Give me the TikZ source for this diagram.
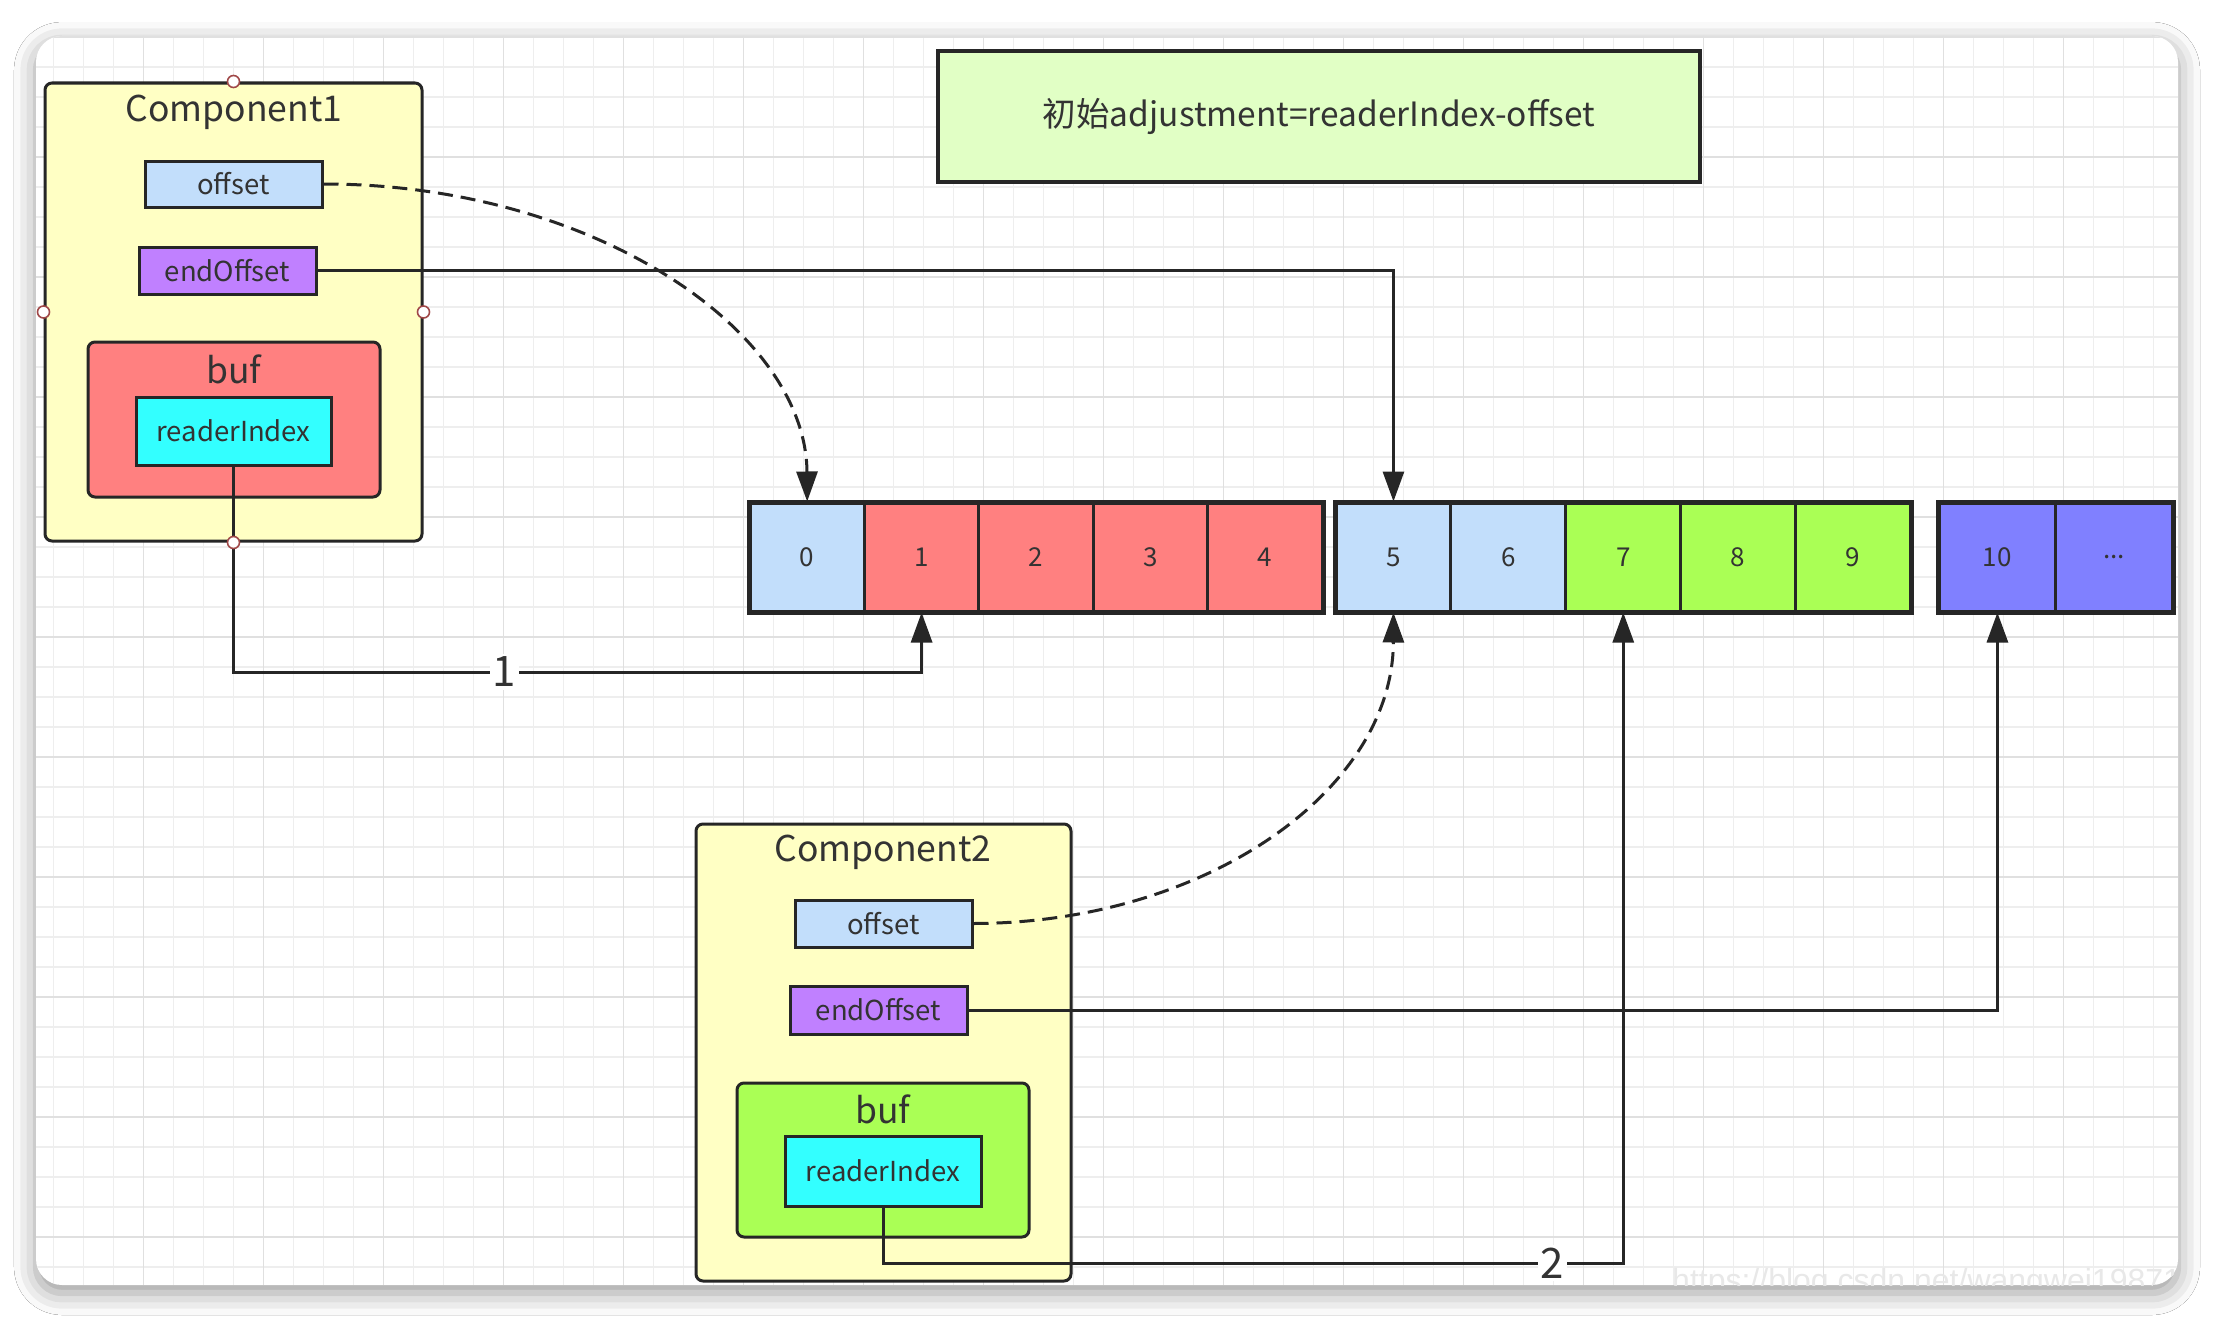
\documentclass[tikz,border=0pt]{standalone}
\usepackage{fontspec}
\setmainfont{Noto Sans CJK SC}
\newfontfamily\wmfont{Liberation Sans}
\usetikzlibrary{arrows.meta,shadows.blur}
\definecolor{txt}{HTML}{333333}
\definecolor{ink}{HTML}{262626}
\definecolor{compc}{HTML}{FFFFC4}
\definecolor{bluec}{HTML}{C2DEFB}
\definecolor{purpc}{HTML}{C080FF}
\definecolor{redc}{HTML}{FF8080}
\definecolor{cyanc}{HTML}{33FFFF}
\definecolor{greenc}{HTML}{AAFF55}
\definecolor{violc}{HTML}{8080FF}
\definecolor{notec}{HTML}{E1FFC5}
\definecolor{gridminor}{HTML}{EEEEEE}
\definecolor{gridmajor}{HTML}{E0E0E0}
\definecolor{handlec}{HTML}{A04848}
\tikzset{
  compbox/.style={draw=ink, line width=3pt, fill=compc, rounded corners=7pt, inner sep=0pt},
  bufbox/.style={draw=ink, line width=3pt, rounded corners=7pt, inner sep=0pt},
  field/.style={draw=ink, line width=3pt, inner sep=0pt, text=txt, font=\fontsize{27.5}{32}\selectfont},
  ttl/.style={text=txt, inner sep=0pt, font=\fontsize{35.5}{40}\selectfont},
  cell/.style={draw=ink, line width=3pt, inner sep=0pt, minimum height=108pt, text=txt, font=\fontsize{26}{30}\selectfont},
  grp/.style={draw=ink, line width=4pt},
  conn/.style={draw=ink, line width=3pt},
  tip/.style={-{Triangle[length=30pt,width=21pt]}},
  dashy/.style={dash pattern=on 15pt off 8pt},
  lbl/.style={fill=white, inner sep=3pt, text=txt, font=\fontsize{42}{44}\selectfont},
  handle/.style={circle, draw=handlec, fill=white, line width=1.6pt, minimum size=12pt, inner sep=0pt},
  note/.style={draw=ink, line width=3.5pt, fill=notec, inner sep=0pt, text=txt, font=\fontsize{33.5}{38}\selectfont},
}
\begin{document}
\begin{tikzpicture}[x=1pt,y=-1pt]
\useasboundingbox (0,0) rectangle (2214,1322);
\fill[white] (0,0) rectangle (2214,1322);
% card with shadow
\path[fill=white, rounded corners=26pt, blur shadow={shadow xshift=0pt, shadow yshift=-8pt, shadow blur radius=22pt, shadow opacity=40}] (36,36) rectangle (2178,1285);
\begin{scope}
\clip[rounded corners=26pt] (36,36) rectangle (2178,1285);
\foreach \x in {53.6,83.6,...,2178} \draw[gridminor, line width=1.2pt] (\x,36) -- (\x,1285);
\foreach \y in {67,97,...,1285} \draw[gridminor, line width=1.2pt] (36,\y) -- (2178,\y);
\foreach \x in {143.6,263.6,...,2178} \draw[gridmajor, line width=1.6pt] (\x,36) -- (\x,1285);
\foreach \y in {37,157,...,1285} \draw[gridmajor, line width=1.6pt] (36,\y) -- (2178,\y);
\node[anchor=base west, text=black!9, inner sep=0pt, font=\wmfont\fontsize{32}{36}\selectfont] (wm) at (1672,1291) {https://blog.csdn.net/wangwei19871103};
\end{scope}

% note
\node[note, minimum width=762pt, minimum height=131pt] (note) at (1319,116.5) {初始adjustment=readerIndex-offset};

% Component1
\node[compbox, minimum width=377pt, minimum height=458pt] (comp1) at (233.5,312) {};
\node[ttl] (c1t) at (234,112) {Component1};
\node[field, fill=bluec, minimum width=177pt, minimum height=46pt] (off1) at (233.5,184) {offset};
\node[field, fill=purpc, minimum width=177pt, minimum height=47pt] (end1) at (227.5,270.5) {endOffset};
\node[bufbox, fill=redc, minimum width=292pt, minimum height=155pt] (buf1) at (234,419.5) {};
\node[ttl] (b1t) at (234,369) {buf};
\node[field, fill=cyanc, minimum width=195pt, minimum height=68pt] (ri1) at (233.5,431) {readerIndex};

% Component2
\node[compbox, minimum width=375pt, minimum height=457pt] (comp2) at (883.5,1052.5) {};
\node[ttl] (c2t) at (883,852) {Component2};
\node[field, fill=bluec, minimum width=177pt, minimum height=47pt] (off2) at (883.5,923.5) {offset};
\node[field, fill=purpc, minimum width=177pt, minimum height=48pt] (end2) at (878.5,1010) {endOffset};
\node[bufbox, fill=greenc, minimum width=292pt, minimum height=154pt] (buf2) at (883,1160) {};
\node[ttl] (b2t) at (883,1109) {buf};
\node[field, fill=cyanc, minimum width=196pt, minimum height=70pt] (ri2) at (883,1171) {readerIndex};

% cells
\foreach \i/\c in {0/bluec,1/redc,2/redc,3/redc,4/redc}
  \node[cell, fill=\c, minimum width=114.4pt] (c\i) at ({750+114.4*(\i+0.5)},557) {\i};
\foreach \i/\c in {5/bluec,6/bluec,7/greenc,8/greenc,9/greenc}
  \node[cell, fill=\c, minimum width=114.9pt] (c\i) at ({1336+114.9*(\i-5+0.5)},557) {\i};
\node[cell, fill=violc, minimum width=116.8pt] (c10) at (1997.4,557) {10};
\node[cell, fill=violc, minimum width=116.8pt] (cdots) at (2114.2,557) {...};
\draw[grp] (c0.north west) rectangle (c4.south east);
\draw[grp] (c5.north west) rectangle (c9.south east);
\draw[grp] (c10.north west) rectangle (cdots.south east);

% connectors
\draw[conn, dashy, tip] (off1.east) .. controls (592,184) and (806,330) .. (c0.north);
\draw[conn, tip] (end1.east) -| (c5.north);
\coordinate (j1) at (233.5,672);
\draw[conn, tip] (ri1.south) -- (j1) -- node[lbl, pos=0.394] (l1) {1} (c1.south |- j1) -- (c1.south);

\draw[conn, dashy, tip] (off2.east) .. controls (1206,923) and (1393,790) .. (c5.south);
\draw[conn, tip] (end2.east) -| (c10.south);
\coordinate (j2) at (883,1263);
\draw[conn, tip] (ri2.south) -- (j2) -- node[lbl, pos=0.904] (l2) {2} (c7.south |- j2) -- (c7.south);

% handles on Component1
\node[handle] (h1) at (comp1.north) {};
\node[handle] (h2) at (comp1.west) {};
\node[handle] (h3) at (comp1.east) {};
\node[handle] (h4) at (comp1.south) {};
\end{tikzpicture}
\end{document}
